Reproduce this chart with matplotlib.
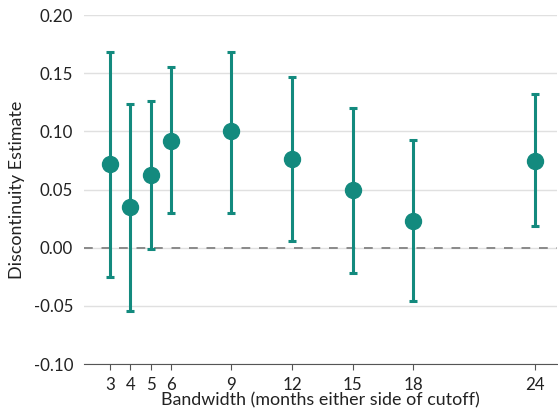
import numpy as np
import matplotlib.pyplot as plt

plt.rcParams['font.family'] = ['Lato', 'DejaVu Sans']

# bandwidth (months) and estimates with 95% interval
bandwidth = [3, 4, 5, 6, 9, 12, 15, 18, 24]
estimate = [0.072, 0.035, 0.063, 0.092, 0.100, 0.076, 0.050, 0.023, 0.075]
ci_low = [-0.025, -0.054, -0.001, 0.030, 0.030, 0.006, -0.022, -0.046, 0.019]
ci_high = [0.168, 0.124, 0.126, 0.155, 0.168, 0.147, 0.120, 0.093, 0.132]

teal = '#138a7e'

est = np.array(estimate)
err = [est - np.array(ci_low), np.array(ci_high) - est]

fig = plt.figure(figsize=(5.58, 4.2), dpi=100)
ax = fig.add_axes([0.151, 0.133, 0.847, 0.831])

ax.axhline(0, color='#8a8a8a', linestyle=(0, (4.5, 4.5)), linewidth=1.4, zorder=1)
ax.errorbar(bandwidth, estimate, yerr=err, fmt='o', color=teal, ecolor=teal,
            markersize=11.5, elinewidth=2.2, capsize=2.9, capthick=2.2, zorder=3)

ax.set_xlim(1.72, 25.1)
ax.set_ylim(-0.10, 0.20)
ax.set_xticks(bandwidth)
ax.set_yticks(np.arange(-0.10, 0.201, 0.05))
ax.set_yticklabels(['-0.10', '-0.05', '0.00', '0.05', '0.10', '0.15', '0.20'])
ax.grid(axis='y', color='#e0e0e0', linewidth=1)
ax.set_axisbelow(True)

for s in ['top', 'right', 'left']:
    ax.spines[s].set_visible(False)
ax.spines['bottom'].set_color('#555555')
ax.tick_params(axis='y', length=0, labelsize=12.2, pad=8)
ax.tick_params(axis='x', length=4, color='#555555', labelsize=12.2, pad=5)
for lab in ax.get_xticklabels() + ax.get_yticklabels():
    lab.set_color('#222222')

ax.set_xlabel('Bandwidth (months either side of cutoff)', fontsize=12.9, labelpad=0, color='#222222')
ax.set_ylabel('Discontinuity Estimate', fontsize=12.9, labelpad=6, color='#222222')

fig.savefig('out.png', dpi=100)
